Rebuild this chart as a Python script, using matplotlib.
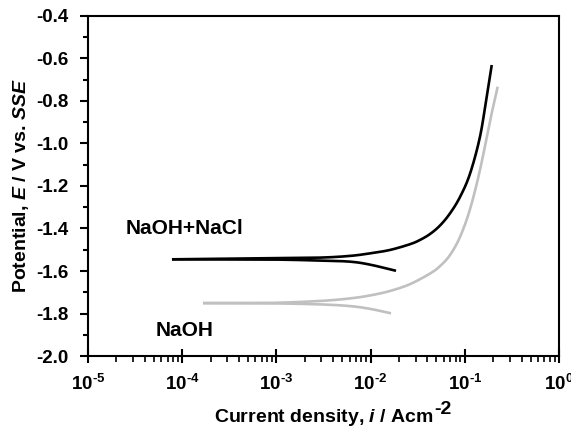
import numpy as np
import matplotlib
matplotlib.use("Agg")
import matplotlib.pyplot as plt
from matplotlib.ticker import LogLocator, MultipleLocator, FuncFormatter

plt.rcParams['font.family'] = ['Liberation Sans', 'DejaVu Sans']
plt.rcParams['font.weight'] = 'bold'
plt.rcParams['axes.unicode_minus'] = False
plt.rcParams['mathtext.fontset'] = 'custom'
plt.rcParams['mathtext.rm'] = 'Liberation Sans:bold'
plt.rcParams['mathtext.bf'] = 'Liberation Sans:bold'
plt.rcParams['mathtext.it'] = 'Liberation Sans:bold:italic'
plt.rcParams['mathtext.default'] = 'rm'

# NaOH+NaCl (black): log10(i / A cm^-2) and E / V vs SSE
nacl_anodic_logi = [-4.108, -3.068, -2.537, -2.219, -2.006, -1.794, -1.582, -1.476,
                    -1.369, -1.263, -1.157, -1.051, -0.945, -0.839, -0.768, -0.714]
nacl_anodic_E = [-1.545, -1.540, -1.537, -1.529, -1.517, -1.501, -1.474, -1.454,
                 -1.426, -1.386, -1.329, -1.252, -1.143, -0.969, -0.780, -0.631]
nacl_cathodic_logi = [-4.108, -3.068, -2.537, -2.219, -2.006, -1.730]
nacl_cathodic_E = [-1.545, -1.546, -1.551, -1.556, -1.570, -1.599]

# NaOH (gray)
naoh_anodic_logi = [-3.779, -3.068, -2.537, -2.219, -2.006, -1.794, -1.582, -1.369,
                    -1.263, -1.157, -1.051, -0.945, -0.839, -0.732, -0.651]
naoh_anodic_E = [-1.751, -1.750, -1.741, -1.729, -1.715, -1.694, -1.662, -1.612,
                 -1.577, -1.525, -1.440, -1.310, -1.125, -0.894, -0.733]
naoh_cathodic_logi = [-3.779, -3.068, -2.537, -2.219, -2.006, -1.783]
naoh_cathodic_E = [-1.751, -1.752, -1.757, -1.765, -1.778, -1.799]

labels = ['NaOH+NaCl', 'NaOH']


def catmull_rom(logi, E, n=30):
    # smooth curve through the read points
    p = np.column_stack([logi, E]).astype(float)
    p = np.vstack([2 * p[0] - p[1], p, 2 * p[-1] - p[-2]])
    out = []
    t = np.linspace(0, 1, n, endpoint=False)[:, None]
    for i in range(1, len(p) - 2):
        p0, p1, p2, p3 = p[i - 1], p[i], p[i + 1], p[i + 2]
        seg = 0.5 * ((2 * p1) + (-p0 + p2) * t + (2 * p0 - 5 * p1 + 4 * p2 - p3) * t ** 2
                     + (-p0 + 3 * p1 - 3 * p2 + p3) * t ** 3)
        out.append(seg)
    out.append(p[-2][None, :])
    out = np.vstack(out)
    return 10 ** out[:, 0], out[:, 1]


fig = plt.figure(figsize=(5.71, 4.30), dpi=100)
ax = fig.add_axes([0.154, 0.172, 0.825, 0.791])

gray = '#c0c0c0'
for li, e in [(naoh_anodic_logi, naoh_anodic_E), (naoh_cathodic_logi, naoh_cathodic_E)]:
    x, y = catmull_rom(li, e)
    ax.plot(x, y, color=gray, lw=1.9, solid_capstyle='butt')
for li, e in [(nacl_anodic_logi, nacl_anodic_E), (nacl_cathodic_logi, nacl_cathodic_E)]:
    x, y = catmull_rom(li, e)
    ax.plot(x, y, color='black', lw=1.9, solid_capstyle='butt')

ax.set_xscale('log')
ax.set_xlim(1e-5, 1)
ax.set_ylim(-2.0, -0.4)

ax.yaxis.set_major_locator(MultipleLocator(0.2))
ax.yaxis.set_minor_locator(MultipleLocator(0.1))
ax.yaxis.set_major_formatter(FuncFormatter(lambda v, p: f'{v:.1f}'))
ax.xaxis.set_major_locator(LogLocator(base=10, numticks=10))
ax.xaxis.set_minor_locator(LogLocator(base=10, subs=np.arange(2, 10), numticks=10))
ax.xaxis.set_major_formatter(FuncFormatter(
    lambda v, p: r'$10^{\text{%s}}$' % str(round(np.log10(v)))))

for s in ax.spines.values():
    s.set_linewidth(1.5)

ax.tick_params(axis='y', which='major', direction='out', length=6, width=1.5, pad=8, labelsize=13.5)
ax.tick_params(axis='y', which='minor', direction='out', length=3.5, width=1.5)
ax.tick_params(axis='x', which='major', direction='inout', length=10, width=1.5, pad=8, labelsize=13.5)
ax.tick_params(axis='x', which='minor', direction='out', length=4, width=1.2)

ax.set_xlabel(r'Current density, $\mathit{i}$ / Acm', fontsize=14, fontweight='bold', labelpad=9)
ax.set_ylabel(r'Potential, $\mathit{E}$ / V vs. $\mathit{SSE}$', fontsize=14, fontweight='bold', labelpad=4)

ax.text(1.05e-4, -1.402, labels[0], fontsize=15, fontweight='bold', ha='center', va='center')
ax.text(1.05e-4, -1.878, labels[1], fontsize=15, fontweight='bold', ha='center', va='center')

# large raised "-2" exponent after the x label
fig.canvas.draw()
bb = ax.xaxis.label.get_window_extent()
fig.text(bb.x1 / fig.bbox.width + 0.002, (bb.y1 - 3) / fig.bbox.height, '-2',
         fontsize=14, fontweight='bold', ha='left', va='center')

fig.savefig('out.png', dpi=100)
